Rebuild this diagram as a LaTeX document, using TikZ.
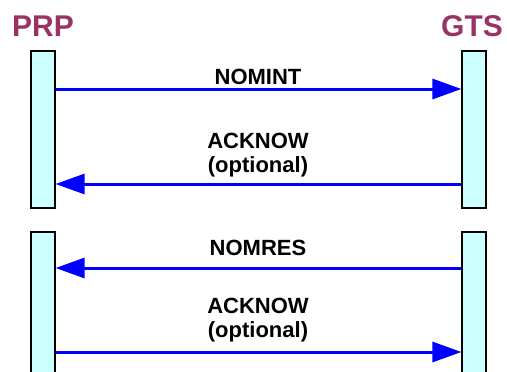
\documentclass[tikz,border=0pt]{standalone}
\usepackage{fontspec}
\setmainfont{Liberation Sans}
\usepackage{xcolor}
\usetikzlibrary{
  arrows.meta,
  shadows
}
\definecolor{partyred}{RGB}{153,51,102}
\definecolor{barfill}{RGB}{204,255,255}

\begin{document}
\begin{tikzpicture}[x=1pt, y=-1pt,
    party/.style={text=partyred, font=\fontsize{30}{32}\selectfont\bfseries, anchor=base, inner sep=0pt},
    lifebar/.style={draw=black, line width=1.2pt, fill=barfill, minimum width=24pt, inner sep=0pt,
                    drop shadow={shadow xshift=1pt, shadow yshift=-1pt, opacity=.35}},
    msgtext/.style={font=\fontsize{22}{24}\selectfont\bfseries, align=center, anchor=south, inner sep=0pt},
    msg/.style={draw=blue, line width=3pt, -{Triangle[length=29pt, width=20pt]}}]
\clip (0,0) rectangle (507,372);
% parties
\node [party] (prp) at (43,37) {PRP};
\node [party] (gts) at (472,37) {GTS};
% lifelines
\node [lifebar, minimum height=157pt] (prpA) at (43,129.5) {};
\node [lifebar, minimum height=157pt] (gtsA) at (474,129.5) {};
\node [lifebar, minimum height=160pt] (prpB) at (43,312) {};
\node [lifebar, minimum height=160pt] (gtsB) at (474,312) {};
% messages
\node [msgtext] (nomint) at (258,85) {NOMINT};
\node [msgtext] (ack1) at (258,177.5) {ACKNOW\\(optional)};
\node [msgtext] (nomres) at (258,256) {NOMRES};
\node [msgtext] (ack2) at (258,342.5) {ACKNOW\\(optional)};
\coordinate (m1) at (258,89);
\coordinate (m2) at (258,184);
\coordinate (m3) at (258,268);
\coordinate (m4) at (258,352);
\draw [msg] (prpA.east |- m1) -- (gtsA.west |- m1);
\draw [msg] (gtsA.west |- m2) -- (prpA.east |- m2);
\draw [msg] (gtsB.west |- m3) -- (prpB.east |- m3);
\draw [msg] (prpB.east |- m4) -- (gtsB.west |- m4);
\end{tikzpicture}
\end{document}
